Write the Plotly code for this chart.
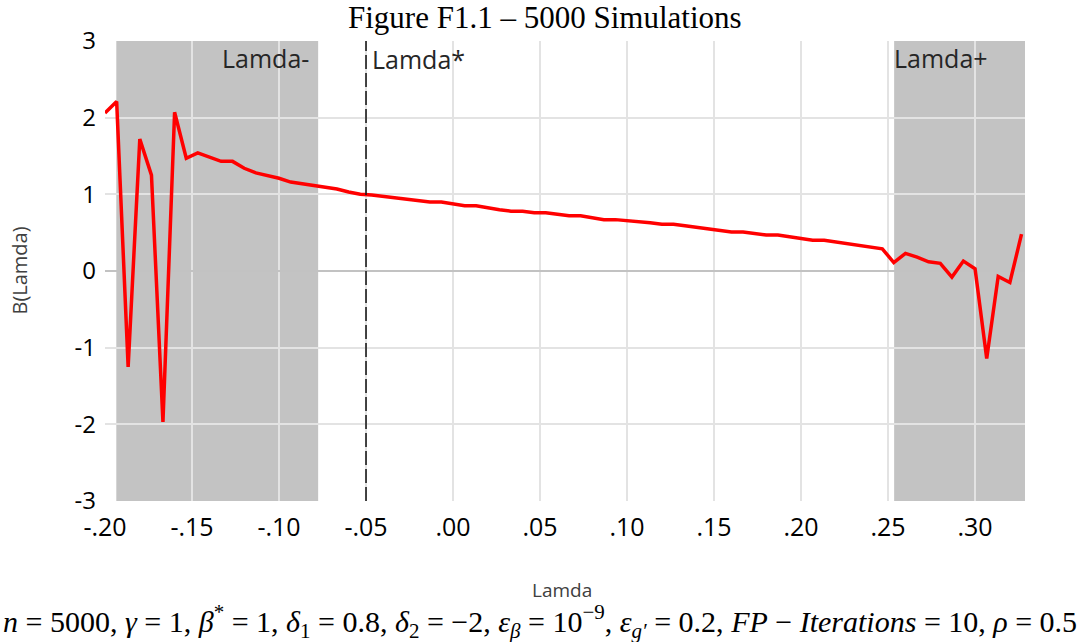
import plotly.graph_objects as go

# Lambda grid and simulated B(Lambda) estimates
lamda = [
    -0.2000, -0.1933, -0.1867, -0.1800, -0.1733, -0.1667, -0.1600, -0.1533, -0.1467, -0.1400,
    -0.1333, -0.1267, -0.1200, -0.1133, -0.1067, -0.1000, -0.0933, -0.0867, -0.0800, -0.0733,
    -0.0667, -0.0600, -0.0533, -0.0467, -0.0400, -0.0333, -0.0267, -0.0200, -0.0133, -0.0067,
    0.0000, 0.0067, 0.0133, 0.0200, 0.0267, 0.0333, 0.0400, 0.0467, 0.0533, 0.0600,
    0.0667, 0.0733, 0.0800, 0.0867, 0.0933, 0.1000, 0.1067, 0.1133, 0.1200, 0.1267,
    0.1333, 0.1400, 0.1467, 0.1533, 0.1600, 0.1667, 0.1733, 0.1800, 0.1867, 0.1933,
    0.2000, 0.2067, 0.2133, 0.2200, 0.2267, 0.2333, 0.2400, 0.2467, 0.2533, 0.2600,
    0.2667, 0.2733, 0.2800, 0.2867, 0.2933, 0.3000, 0.3067, 0.3133, 0.3200, 0.3267,
]
b_lamda = [
    2.06, 2.21, -1.25, 1.72, 1.25, -1.97, 2.07, 1.47, 1.54, 1.49,
    1.43, 1.43, 1.34, 1.28, 1.25, 1.21, 1.16, 1.14, 1.11, 1.09,
    1.07, 1.03, 1.00, 0.99, 0.97, 0.95, 0.94, 0.92, 0.90, 0.90,
    0.88, 0.85, 0.85, 0.82, 0.80, 0.78, 0.78, 0.76, 0.76, 0.74,
    0.72, 0.72, 0.69, 0.67, 0.67, 0.66, 0.65, 0.63, 0.61, 0.61,
    0.59, 0.57, 0.56, 0.54, 0.51, 0.51, 0.49, 0.47, 0.47, 0.45,
    0.43, 0.40, 0.40, 0.38, 0.36, 0.34, 0.32, 0.29, 0.11, 0.23,
    0.18, 0.12, 0.10, -0.08, 0.13, 0.03, -1.14, -0.07, -0.15, 0.48,
]

x_ticks = [-0.20, -0.15, -0.10, -0.05, 0.00, 0.05, 0.10, 0.15, 0.20, 0.25, 0.30]
x_tick_text = ["-.20", "-.15", "-.10", "-.05", ".00", ".05", ".10", ".15", ".20", ".25", ".30"]
y_ticks = [-3, -2, -1, 0, 1, 2, 3]
y_tick_text = ["-3", "-2", "-1", "0", "1", "2", "3"]

# Shaded lambda bands and the reference lambda
lamda_minus_band = (-0.1935, -0.0775)
lamda_plus_band = (0.2535, 0.3287)
lamda_star = -0.05

x_range = [-0.2, 0.3287]

fig = go.Figure()
fig.add_trace(go.Scatter(
    x=lamda, y=b_lamda, mode="lines",
    line=dict(color="#ff0000", width=3.5),
    showlegend=False,
))

for x0, x1 in (lamda_minus_band, lamda_plus_band):
    fig.add_shape(type="rect", xref="x", yref="y", x0=x0, x1=x1, y0=-3, y1=3,
                  fillcolor="#c3c3c3", line=dict(width=0), layer="below")

fig.add_shape(type="line", xref="x", yref="y", x0=lamda_star, x1=lamda_star, y0=-3, y1=3,
              line=dict(color="#1a1a1a", width=1.6, dash="14px,4px"), layer="above")

label_font = dict(family="Open Sans", size=25, color="#262626")
fig.add_annotation(x=-0.1075, y=2.78, xref="x", yref="y", text="Lamda-",
                   showarrow=False, font=label_font, xanchor="center", yanchor="middle")
fig.add_annotation(x=-0.0475, y=2.76, xref="x", yref="y", text="Lamda*",
                   showarrow=False, font=label_font, xanchor="left", yanchor="middle")
fig.add_annotation(x=0.2805, y=2.78, xref="x", yref="y", text="Lamda+",
                   showarrow=False, font=label_font, xanchor="center", yanchor="middle")

# Title, axis titles and parameter line
fig.add_annotation(x=0.478, y=1.052, xref="paper", yref="paper",
                   text="Figure F1.1 – 5000 Simulations", showarrow=False,
                   font=dict(family="Liberation Serif", size=31, color="#000000"),
                   xanchor="center", yanchor="middle")
fig.add_annotation(x=0.497, y=-0.193, xref="paper", yref="paper", text="Lamda",
                   showarrow=False, font=dict(family="Open Sans", size=19, color="#404040"),
                   xanchor="center", yanchor="middle")
fig.add_annotation(x=-0.094, y=0.5, xref="paper", yref="paper", text="B(Lamda)",
                   showarrow=False, textangle=-90,
                   font=dict(family="Open Sans", size=20, color="#404040"),
                   xanchor="center", yanchor="middle")

params = ("<i>n</i> = 5000, <i>γ</i> = 1, <i>β</i><sup>*</sup> = 1, "
          "<i>δ</i><sub>1</sub> = 0.8, <i>δ</i><sub>2</sub> = −2, "
          "<i>ε</i><sub><i>β</i></sub> = 10<sup>−9</sup>, "
          "<i>ε</i><sub><i>g′</i></sub> = 0.2, <i>FP</i> − <i>Iterations</i> = 10, "
          "<i>ρ</i> = 0.5")
fig.add_annotation(x=0.473, y=-0.263, xref="paper", yref="paper", text=params,
                   showarrow=False, font=dict(family="Liberation Serif", size=30, color="#000000"),
                   xanchor="center", yanchor="middle")

fig.update_xaxes(
    range=x_range, tickmode="array", tickvals=x_ticks, ticktext=x_tick_text,
    showgrid=True, gridcolor="#e3e3e3", gridwidth=1.5,
    zeroline=False, showline=False, ticks="", ticklabelstandoff=9,
    tickfont=dict(family="Open Sans", size=25, color="#000000"),
)
fig.update_yaxes(
    range=[-3, 3], tickmode="array", tickvals=y_ticks, ticktext=y_tick_text,
    showgrid=True, gridcolor="#e3e3e3", gridwidth=1.5,
    zeroline=True, zerolinecolor="#c2c2c2", zerolinewidth=1.5,
    showline=False, ticks="", ticklabelstandoff=8,
    tickfont=dict(family="Open Sans", size=24, color="#000000"),
)

fig.update_layout(
    width=1081, height=642,
    margin=dict(l=105, r=56, t=41, b=141),
    paper_bgcolor="#ffffff", plot_bgcolor="#ffffff",
)

fig.write_html("out.html")
